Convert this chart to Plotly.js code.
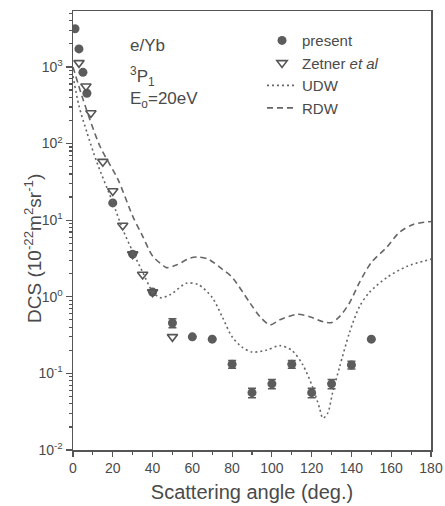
<!DOCTYPE html>
<html>
<head>
<meta charset="utf-8">
<script src="https://cdn.plot.ly/plotly-3.0.1.min.js"></script>
<style>html,body{margin:0;padding:0;background:#fff;}#chart{width:445px;height:506px;}</style>
</head>
<body>
<div id="chart"></div>
<script>
// Present measurements
const presentAngle = [1, 3, 5, 7, 20, 30, 40, 50, 60, 70, 80, 90, 100, 110, 120, 130, 140, 150];
const presentDCS   = [3150, 1720, 850, 453, 16.8, 3.6, 1.15, 0.455, 0.30, 0.28, 0.132, 0.056, 0.073, 0.132, 0.056, 0.073, 0.129, 0.28];
const presentErr   = [0, 0, 0, 0, 0, 0, 0, 0.06, 0, 0, 0.015, 0.008, 0.01, 0.015, 0.008, 0.01, 0.015, 0];

// Zetner et al
const zetnerAngle = [3, 6.5, 9, 15, 20, 25, 30, 35, 40, 50];
const zetnerDCS   = [1130, 560, 250, 58, 24, 8.5, 3.6, 1.95, 1.15, 0.30];

// UDW theory
const udwAngle = [0, 3, 7, 12, 20, 25, 30, 35, 40, 44, 49, 57, 63, 70, 75, 80, 85, 90, 97, 104, 110, 115.5, 120.5, 124, 125.6, 128, 130.6, 134, 139, 144, 149, 158, 168, 180];
const udwDCS   = [760, 310, 140, 57, 17, 7.6, 3.9, 2.1, 1.17, 0.97, 1.07, 1.5, 1.44, 0.98, 0.55, 0.30, 0.22, 0.19, 0.20, 0.23, 0.20, 0.13, 0.066, 0.035, 0.026, 0.030, 0.057, 0.12, 0.34, 0.74, 1.14, 1.8, 2.5, 3.1];

// RDW theory
const rdwAngle = [0, 5, 13.5, 22.6, 30, 35, 40, 45, 47, 52, 59, 63, 68, 75, 80, 89, 94, 99, 104, 112.5, 119, 126, 130, 134, 139, 144, 150, 158, 164, 171, 180];
const rdwDCS   = [1000, 380, 93, 34, 11.3, 6.2, 3.4, 2.6, 2.4, 2.6, 3.2, 3.3, 3.1, 2.3, 1.8, 0.83, 0.55, 0.43, 0.50, 0.59, 0.55, 0.47, 0.46, 0.55, 0.83, 1.53, 2.8, 4.5, 6.9, 8.8, 9.6];

const xTicks = [0, 20, 40, 60, 80, 100, 120, 140, 160, 180];
const yTicks = [0.01, 0.1, 1, 10, 100, 1000];
const yTickText = ['10<sup>-2</sup>', '10<sup>-1</sup>', '10<sup>0</sup>', '10<sup>1</sup>', '10<sup>2</sup>', '10<sup>3</sup>'];

const yMinor = [];
for (let e = -2; e <= 3; e++) for (let m = 2; m <= 9; m++) yMinor.push(m * Math.pow(10, e));

const ink = '#4a4a4a';
const yRange = [-2, 3.73];

const traces = [
  {x: presentAngle, y: presentDCS, name: 'present', type: 'scatter', mode: 'markers',
   marker: {symbol: 'circle', size: 9, color: '#5c5c5c'},
   error_y: {type: 'data', array: presentErr, visible: true, color: '#5c5c5c', thickness: 1.5, width: 4}},
  {x: zetnerAngle, y: zetnerDCS, name: 'Zetner <i>et al</i>', type: 'scatter', mode: 'markers',
   marker: {symbol: 'triangle-down-open', size: 9, color: '#555', line: {width: 1.6, color: '#555'}}},
  {x: udwAngle, y: udwDCS, name: 'UDW', type: 'scatter', mode: 'lines',
   line: {color: '#666', width: 1.6, dash: '2px,3px', shape: 'spline', smoothing: 0.8}},
  {x: rdwAngle, y: rdwDCS, name: 'RDW', type: 'scatter', mode: 'lines',
   line: {color: '#666', width: 1.6, dash: '6px,4px', shape: 'spline', smoothing: 0.8}},
  // invisible trace carrying the minor-tick axis
  {x: [90], y: [1], xaxis: 'x', yaxis: 'y2', type: 'scatter', mode: 'markers', marker: {opacity: 0}, showlegend: false, hoverinfo: 'skip'}
];

const layout = {
  width: 445, height: 506,
  margin: {l: 73, r: 14, t: 11, b: 56},
  paper_bgcolor: '#fff', plot_bgcolor: '#fff',
  font: {family: 'Liberation Sans, Arial, sans-serif', color: ink, size: 14},
  showlegend: true,
  legend: {x: 0.528, y: 0.97, xanchor: 'left', yanchor: 'top', bgcolor: 'rgba(0,0,0,0)',
           font: {size: 15, color: ink}, tracegroupgap: 0},
  xaxis: {range: [0, 180], tickvals: xTicks, ticks: 'outside', ticklen: 5, tickwidth: 1.2, tickcolor: '#555',
          showline: true, linecolor: '#555', linewidth: 1.5, mirror: true, showgrid: false, zeroline: false,
          minor: {dtick: 10, tick0: 0, ticks: 'outside', ticklen: 3, tickwidth: 1.2, tickcolor: '#555'},
          tickfont: {size: 14, color: ink},
          title: {text: 'Scattering angle (deg.)', font: {size: 20, color: ink}, standoff: 9}},
  yaxis: {type: 'log', range: yRange, tickmode: 'array', tickvals: yTicks, ticktext: yTickText,
          ticks: 'outside', ticklen: 6, tickwidth: 1.2, tickcolor: '#555',
          showline: true, linecolor: '#555', linewidth: 1.5, mirror: true, showgrid: false, zeroline: false,
          tickfont: {size: 14, color: ink}},
  yaxis2: {type: 'log', range: yRange, overlaying: 'y', anchor: 'x', side: 'left', tickmode: 'array', tickvals: yMinor,
           showticklabels: false, ticks: 'outside', ticklen: 3, tickwidth: 1.2, tickcolor: '#555',
           showline: false, showgrid: false, zeroline: false},
  annotations: [
    {xref: 'paper', yref: 'paper', x: -0.112, y: 0.46, xanchor: 'center', yanchor: 'middle', showarrow: false,
     textangle: -90, text: 'DCS (10<sup>-22</sup>m<sup>2</sup>sr<sup>-1</sup>)', font: {size: 19, color: ink}},
    {xref: 'paper', yref: 'paper', x: 0.154, y: 0.922, xanchor: 'left', yanchor: 'middle', showarrow: false,
     text: 'e/Yb', font: {size: 17, color: ink}},
    {xref: 'paper', yref: 'paper', x: 0.154, y: 0.85, xanchor: 'left', yanchor: 'middle', showarrow: false,
     text: '<sup>3</sup>P<sub>1</sub>', font: {size: 17, color: ink}},
    {xref: 'paper', yref: 'paper', x: 0.154, y: 0.797, xanchor: 'left', yanchor: 'middle', showarrow: false,
     text: 'E<sub>o</sub>=20eV', font: {size: 17, color: ink}}
  ]
};

Plotly.newPlot('chart', traces, layout, {displayModeBar: false, staticPlot: true});
</script>
</body>
</html>
